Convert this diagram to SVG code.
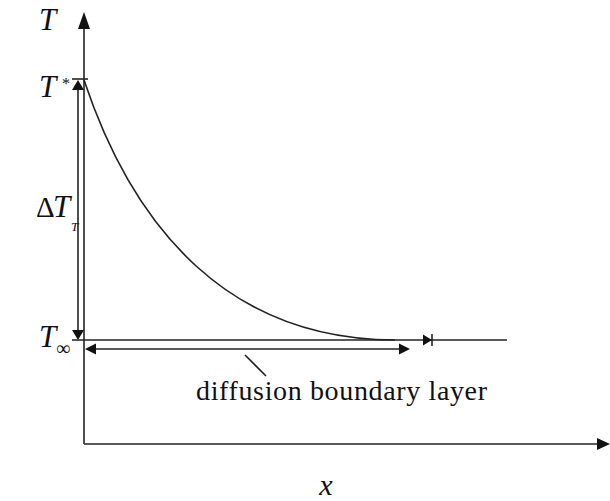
<svg xmlns="http://www.w3.org/2000/svg" width="610" height="501" viewBox="0 0 610 501">
<style>
.ln{stroke:#222;stroke-width:1.6;fill:none}
.ah{fill:#111;stroke:none}
.t{font-family:"Liberation Serif","DejaVu Serif",serif;fill:#111}
.it{font-family:"Liberation Serif","DejaVu Serif",serif;font-style:italic;fill:#111}
</style>
<rect width="610" height="501" fill="#fff"/>
<g id="axes">
<line class="ln" x1="84" y1="22" x2="84" y2="444"/>
<line class="ln" x1="84" y1="444" x2="602" y2="444"/>
<polygon class="ah" points="84,12 78,29 90,29"/>
<polygon class="ah" points="610,444 597,438 597,450"/>
</g>
<g id="curve">
<path class="ln" d="M84,80 C134,230 230,340 395,340"/>
</g>
<g id="connectors">
<line class="ln" x1="72" y1="79" x2="88" y2="79"/>
<line class="ln" x1="78" y1="86" x2="78" y2="334"/>
<polygon class="ah" points="78,80 72,90 84,90"/>
<polygon class="ah" points="78,340 72,330 84,330"/>
<line class="ln" x1="72" y1="340" x2="507" y2="340"/>
<line class="ln" x1="92" y1="349" x2="402" y2="349"/>
<polygon class="ah" points="85,349 96,343.5 96,354.5"/>
<polygon class="ah" points="410,349 399,343.5 399,354.5"/>
<polygon class="ah" points="432,340 423,334.5 423,345.5"/>
<line class="ln" x1="432" y1="334" x2="432" y2="346"/>
<line class="ln" x1="245" y1="355" x2="266" y2="376"/>
</g>
<g id="labels">
<text class="it" x="39" y="30" font-size="31">T</text>
<text class="it" x="39" y="97" font-size="31">T</text>
<text class="t" x="62" y="89" font-size="16">*</text>
<text class="t" x="36" y="217" font-size="29">Δ</text>
<text class="it" x="53" y="217" font-size="31">T</text>
<text class="it" x="71" y="231" font-size="13">T</text>
<text class="it" x="39" y="347" font-size="31">T</text>
<text class="t" x="56" y="355" font-size="20">∞</text>
<text class="t" x="196" y="400" font-size="28" textLength="291">diffusion boundary layer</text>
<text class="it" x="326" y="495" font-size="30" text-anchor="middle">x</text>
</g>
</svg>
